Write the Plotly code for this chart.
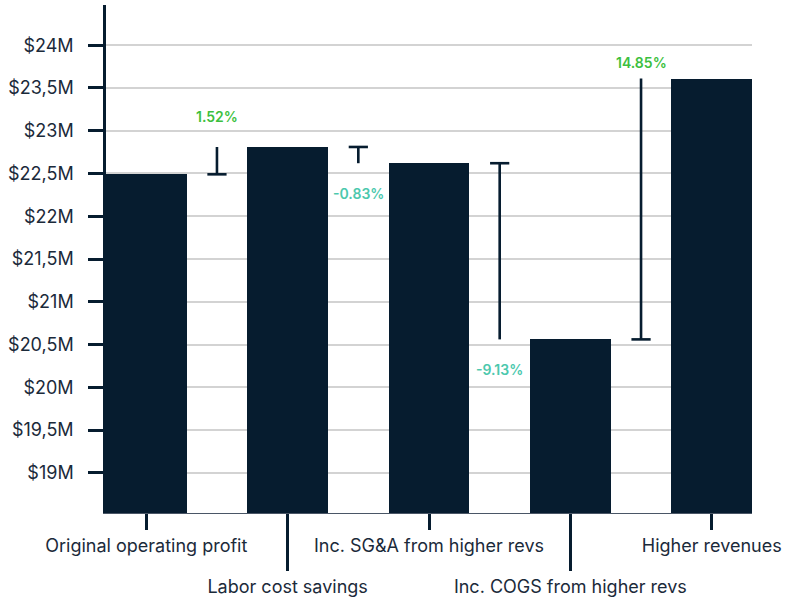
import plotly.graph_objects as go

categories = ["Original operating profit", "Labor cost savings", "Inc. SG&A from higher revs",
              "Inc. COGS from higher revs", "Higher revenues"]
values_m = [22.49, 22.81, 22.62, 20.56, 23.61]
change_labels = ["1.52%", "-0.83%", "-9.13%", "14.85%"]
y_tickvals = [19, 19.5, 20, 20.5, 21, 21.5, 22, 22.5, 23, 23.5, 24]
y_ticktext = ["$19M", "$19,5M", "$20M", "$20,5M", "$21M", "$21,5M", "$22M", "$22,5M", "$23M", "$23,5M", "$24M"]

DARK = "#061c2f"
GREEN = "#3cbf3e"
TEAL = "#4cc8ad"
TEXT = "#1b2a3a"
FONT = "Inter"

n = len(categories)
xs = list(range(n))

fig = go.Figure()
fig.add_trace(go.Bar(x=xs, y=values_m, width=0.57, marker=dict(color=DARK, line=dict(width=0)),
                     base=0, showlegend=False, hoverinfo="skip"))

# connectors: vertical line from previous value to next value, cap at previous value
cap = 0.068
lx, ly = [], []
for i in range(n - 1):
    xm = i + 0.5
    a, b = values_m[i], values_m[i + 1]
    lx += [xm, xm, None, xm - cap, xm + cap, None]
    ly += [a, b, None, a, a, None]
fig.add_trace(go.Scatter(x=lx, y=ly, mode="lines", line=dict(color=DARK, width=2.6),
                         showlegend=False, hoverinfo="skip"))

label_shift = [30, -30, -30, 16]
for i, lab in enumerate(change_labels):
    a, b = values_m[i], values_m[i + 1]
    up = b >= a
    fig.add_annotation(x=i + 0.5, y=max(a, b) if up else min(a, b), text=lab, showarrow=False,
                       yshift=label_shift[i], font=dict(family=FONT, size=14, color=GREEN if up else TEAL,
                                                        weight=600))

xrange = [-0.285, n - 1 + 0.285]
fig.update_layout(
    width=786, height=599,
    margin=dict(l=106, r=34, t=5, b=86),
    paper_bgcolor="white", plot_bgcolor="white",
    bargap=0,
    font=dict(family=FONT, color=TEXT),
    xaxis=dict(range=xrange, tickvals=xs[0::2], ticktext=categories[0::2], ticks="outside",
               ticklen=16, tickwidth=2.5, tickcolor=DARK, showgrid=False, zeroline=False,
               showline=True, linecolor="#4a5666", linewidth=1, automargin=False,
               tickfont=dict(family=FONT, size=18, color=TEXT)),
    xaxis2=dict(range=xrange, overlaying="x", side="bottom", anchor="y", tickvals=xs[1::2],
                ticktext=categories[1::2], ticks="outside", ticklen=57, tickwidth=2.5, tickcolor=DARK,
                showgrid=False, zeroline=False, showline=False, automargin=False,
                tickfont=dict(family=FONT, size=18, color=TEXT)),
    yaxis=dict(range=[18.53, 24.47], tickvals=y_tickvals, ticktext=y_ticktext, ticks="outside",
               ticklen=15, tickwidth=3, tickcolor=DARK, showgrid=True, gridcolor="#d3d3d3",
               gridwidth=2, zeroline=False, showline=True, linecolor=DARK, linewidth=2.5,
               ticklabelstandoff=11, automargin=False,
               tickfont=dict(family=FONT, size=18, color=TEXT)),
)
# dummy trace to activate xaxis2
fig.add_trace(go.Scatter(x=[None], y=[None], xaxis="x2", showlegend=False, hoverinfo="skip"))

fig.write_html("out.html", config={"displayModeBar": False},
               post_script="document.body.style.margin='0';document.body.style.overflow='hidden';")
